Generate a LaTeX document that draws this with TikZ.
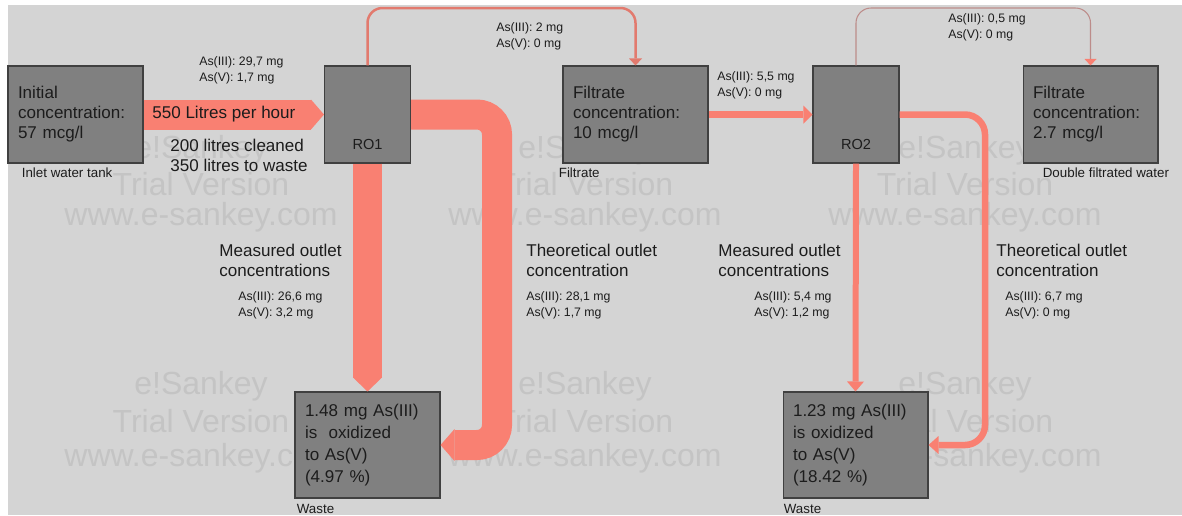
\documentclass[tikz,border=0pt]{standalone}
\usepackage{fontspec}
\setmainfont{Liberation Sans}
\usetikzlibrary{arrows.meta,positioning}

\definecolor{panelgray}{RGB}{212,212,212}
\definecolor{boxgray}{RGB}{128,128,128}
\definecolor{boxedge}{RGB}{64,64,64}
\definecolor{flowred}{RGB}{249,128,114}
\definecolor{thinred}{RGB}{226,122,110}
\definecolor{thinmauve}{RGB}{188,140,138}
\definecolor{markgray}{RGB}{196,196,196}
\definecolor{inktext}{RGB}{28,28,28}

\newcommand{\boxfont}{\fontsize{9.7}{11.4}\selectfont}
\newcommand{\wastefont}{\fontsize{9.7}{12.6}\selectfont}
\newcommand{\valfont}{\fontsize{7}{9.1}\selectfont}
\newcommand{\capfont}{\fontsize{7.6}{9}\selectfont}
\newcommand{\markfont}{\fontsize{18.2}{20}\selectfont}

\begin{document}
\begin{tikzpicture}[
    x=0.02cm, y=-0.02cm,
    box/.style={draw=boxedge, rectangle, fill=boxgray, line width=0.6pt, align=left, inner xsep=0.2cm, inner ysep=0pt, font=\boxfont, text=inktext},
    unit/.style={draw=boxedge, rectangle, fill=boxgray, line width=0.6pt, minimum width=1.72cm, minimum height=1.94cm, inner sep=0pt},
    unitname/.style={font=\fontsize{8.3}{10}\selectfont, text=inktext, inner sep=0pt},
    caption/.style={font=\capfont, text=inktext, inner sep=0pt},
    valtxt/.style={font=\valfont, align=left, anchor=west, inner sep=0pt, text=inktext},
    headtxt/.style={font=\boxfont, align=left, anchor=west, inner sep=0pt, text=inktext},
    wmark/.style={font=\markfont, text=markgray, inner sep=0pt},
    bigflow/.style={draw=flowred, line width=0.6cm},
    midflow/.style={draw=flowred, line width=0.13cm}
]

    % Canvas
    \useasboundingbox (0,0) rectangle (1182,515);
    \fill[white] (0,0) rectangle (1182,515);
    \fill[panelgray] (8,5) rectangle (1182,515);

    % Watermark of the trial version
    \foreach \cx [count=\c] in {201,585,965} {
        \node[wmark] (wma\c) at (\cx,150) {e!Sankey};
        \node[wmark] (wmb\c) at (\cx,184) {Trial Version};
        \node[wmark] (wmc\c) at (\cx,217) {www.e-sankey.com};
        \node[wmark] (wmd\c) at (\cx,386) {e!Sankey};
        \node[wmark] (wme\c) at (\cx,421) {Trial Version};
        \node[wmark] (wmf\c) at (\cx,458) {www.e-sankey.com};
    }

    % Stage 1: inlet tank and first reverse osmosis unit
    \node[box, minimum width=2.7cm, minimum height=1.94cm, text width=2.3cm] (inlet) at (75.5,114.5) {Initial\\concentration:\\57 mcg/l};
    \node[caption, below right=0.07cm and 0.28cm of inlet.south west, anchor=north west] (inletcap) {Inlet water tank};
    \node[unit] (ro1) at (367.5,114.5) {};
    \node[unitname] (ro1txt) at ([yshift=0.38cm]ro1.south) {RO1};

    % Stage 2: filtrate and second reverse osmosis unit
    \node[box, minimum width=2.9cm, minimum height=1.94cm, text width=2.5cm] (filtrate) at (635.5,114.5) {Filtrate\\concentration:\\10 mcg/l};
    \node[caption, below right=0.07cm and -0.08cm of filtrate.south west, anchor=north west] (filtcap) {Filtrate};
    \node[unit] (ro2) at (856,114.5) {};
    \node[unitname] (ro2txt) at ([yshift=0.38cm]ro2.south) {RO2};
    \node[box, minimum width=2.7cm, minimum height=1.94cm, text width=2.3cm] (final) at (1090.5,114.5) {Filtrate\\concentration:\\2.7 mcg/l};
    \node[caption, below right=0.07cm and 0.4cm of final.south west, anchor=north west] (finalcap) {Double filtrated water};

    % Stage 3: waste
    \node[box, font=\wastefont, minimum width=2.9cm, minimum height=2.12cm, text width=2.5cm] (waste1) at (367.5,445) {1.48 mg As(III)\\is\ \ oxidized\\to As(V)\\(4.97 \%)};
    \node[caption, below right=0.1cm and 0.04cm of waste1.south west, anchor=north west] (waste1cap) {Waste};
    \node[box, font=\wastefont, minimum width=2.9cm, minimum height=2.12cm, text width=2.5cm] (waste2) at (855.5,445) {1.23 mg As(III)\\is oxidized\\to As(V)\\(18.42 \%)};
    \node[caption, below right=0.1cm and 0.02cm of waste2.south west, anchor=north west] (waste2cap) {Waste};

    % Bend points of the flows
    \coordinate (top1) at (500,8);
    \coordinate (top2) at (970,8);
    \coordinate (bend1) at (497,280);
    \coordinate (bend2) at (985,280);

    % Flows out of RO1
    \draw[bigflow, -{Triangle[length=0.26cm, width=0.6cm, line width=0pt]}] (inlet.east) -- (ro1.west);
    \draw[bigflow, line width=0.58cm, -{Triangle[length=0.28cm, width=0.58cm, line width=0pt]}] (ro1.south) -- (waste1.north);
    \draw[bigflow, rounded corners=0.4cm, -{Triangle[length=0.28cm, width=0.64cm, line width=0pt]}] (ro1.east) -| (bend1) |- (waste1.east);
    \draw[thinred, line width=0.05cm, rounded corners=0.3cm, -{Triangle[length=0.14cm, width=0.26cm, line width=0pt]}] (ro1.north) |- (top1) -| (filtrate.north);

    % Flows out of RO2
    \draw[midflow, line width=0.14cm, -{Triangle[length=0.18cm, width=0.36cm, line width=0pt]}] (filtrate.east) -- (ro2.west);
    \draw[midflow, line width=0.12cm, -{Triangle[length=0.2cm, width=0.34cm, line width=0pt]}] (ro2.south) -- (waste2.north);
    \draw[midflow, rounded corners=0.4cm, -{Triangle[length=0.2cm, width=0.36cm, line width=0pt]}] (ro2.east) -| (bend2) |- (waste2.east);
    \draw[thinmauve, line width=0.6pt, rounded corners=0.3cm, -{Triangle[length=0.13cm, width=0.24cm, line width=0pt, fill=flowred]}] (ro2.north) |- (top2) -| (final.north);

    % Flow labels
    \node[valtxt] (in1val) at (199,70) {As(III): 29,7 mg\\As(V): 1,7 mg};
    \node[headtxt] (rate) at (152,114) {550 Litres per hour};
    \node[headtxt, font=\fontsize{9.7}{11.3}\selectfont] (split) at (170,155) {200 litres cleaned\\350 litres to waste};
    \node[valtxt] (top1val) at (496,36) {As(III): 2 mg\\As(V): 0 mg};
    \node[valtxt] (filtval) at (717,85) {As(III): 5,5 mg\\As(V): 0 mg};
    \node[valtxt] (top2val) at (948,27) {As(III): 0,5 mg\\As(V): 0 mg};

    \node[headtxt] (meas1) at (219,260) {Measured outlet\\concentrations};
    \node[valtxt] (meas1val) at (238,305) {As(III): 26,6 mg\\As(V): 3,2 mg};
    \node[headtxt] (theo1) at (526,260) {Theoretical outlet\\concentration};
    \node[valtxt] (theo1val) at (526,305) {As(III): 28,1 mg\\As(V): 1,7 mg};
    \node[headtxt] (meas2) at (718,260) {Measured outlet\\concentrations};
    \node[valtxt] (meas2val) at (754,305) {As(III): 5,4 mg\\As(V): 1,2 mg};
    \node[headtxt] (theo2) at (996,260) {Theoretical outlet\\concentration};
    \node[valtxt] (theo2val) at (1005,305) {As(III): 6,7 mg\\As(V): 0 mg};

\end{tikzpicture}
\end{document}
